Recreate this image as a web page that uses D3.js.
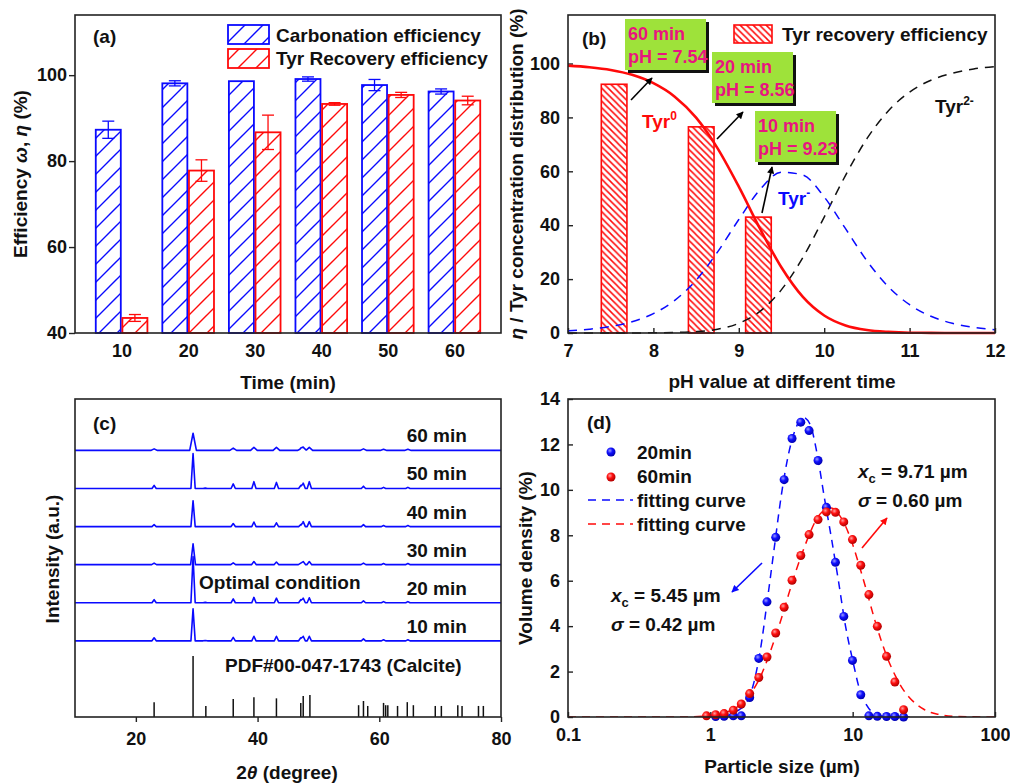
<!DOCTYPE html>
<html>
<head>
<meta charset="utf-8">
<script src="https://cdnjs.cloudflare.com/ajax/libs/d3/7.8.5/d3.min.js"></script>
<style>
  body { margin: 0; background: #fff; }
  svg { display: block; }
</style>
</head>
<body>
<div id="chart"></div>
<script>
const FONT = "'Liberation Sans', Arial, Helvetica, sans-serif";

// (a) carbonation / recovery efficiency vs time
const times = [10, 20, 30, 40, 50, 60];
const carbEff = [87.3, 98.1, 98.6, 99.1, 97.7, 96.2];
const carbErr = [2.0, 0.6, 0, 0.5, 1.3, 0.6];
const tyrEff = [43.5, 77.8, 86.7, 93.3, 95.4, 94.1];
const tyrErr = [0.8, 2.5, 4.0, 0.3, 0.6, 1.0];

// (b) recovery bars at measured pH + Tyr species distribution
const phBars = [7.54, 8.56, 9.23];
const phBarEff = [92.3, 76.5, 43.0];
const phGrid = [7, 7.25, 7.5, 7.75, 8, 8.25, 8.5, 8.75, 9, 9.25, 9.5, 9.75, 10, 10.25, 10.5, 10.75, 11, 11.25, 11.5, 11.75, 12];
const tyr0 = [99.2, 98.6, 97.6, 95.8, 92.7, 87.7, 79.9, 68.6, 54.3, 38.6, 24.3, 13.4, 6.5, 2.8, 1.1, 0.4, 0.1, 0.05, 0, 0, 0];
const tyrM = [0.8, 1.4, 2.4, 4.2, 7.2, 12.1, 19.6, 30.0, 42.1, 53.3, 59.7, 58.6, 50.5, 38.7, 26.8, 17.2, 10.5, 6.2, 3.6, 2.1, 1.2];
const tyr2M = [0, 0, 0, 0, 0.1, 0.2, 0.5, 1.4, 3.6, 8.1, 16.1, 28.0, 43.0, 58.5, 72.1, 82.4, 89.4, 93.8, 96.4, 98.0, 98.8];

// (c) XRD patterns, peak positions and heights (a.u.), one list per time
const xrdLabels = ["10 min", "20 min", "30 min", "40 min", "50 min", "60 min"];
const xrdOffsets = [200, 300, 400, 500, 600, 700];
const xrdPeakPos = [23.0, 29.4, 31.4, 36.0, 39.4, 43.1, 47.1, 47.5, 48.5, 57.4, 60.7, 64.7];
const xrd10 = [8, 84, 1, 9, 12, 12, 8, 12, 12, 5, 3, 3];
const xrd20 = [8, 121, 1, 10, 14, 12, 8, 12, 13, 5, 3, 3];
const xrd30 = [4, 55, 0, 5, 8, 7, 4, 8, 8, 4, 3, 3];
const xrd40 = [5, 68, 0, 8, 12, 10, 5, 13, 13, 5, 3, 3];
const xrd50 = [8, 92, 1, 12, 18, 16, 8, 14, 18, 6, 3, 3];
const xrd60 = [4, 45, 0, 6, 8, 8, 4, 8, 8, 4, 3, 3];
const xrdWidths = [0.35, 0.35, 0.4, 0.35, 0.35, 0.55];
const pdfPos = [23.0, 29.4, 31.5, 36.0, 39.4, 43.1, 47.1, 47.5, 48.6, 56.6, 57.4, 58.1, 60.7, 61.05, 61.4, 63.0, 64.6, 65.6, 69.2, 70.2, 72.9, 73.6, 76.3, 77.1];
const pdfInt = [39, 160, 29, 47, 52, 49, 37, 55, 58, 31, 42, 29, 37, 31, 31, 29, 39, 31, 29, 29, 31, 29, 29, 29];

// (d) particle size distribution
const blueSize = [1.09, 1.25, 1.45, 1.65, 1.89, 2.19, 2.50, 2.88, 3.30, 3.75, 4.32, 4.94, 5.71, 6.54, 7.57, 8.66, 9.97, 11.4, 13.0, 14.9, 17.3, 19.8, 22.8];
const blueVol = [0.02, 0.03, 0.05, 0.05, 0.86, 2.58, 5.07, 7.91, 10.45, 12.26, 12.98, 12.61, 11.29, 9.23, 6.81, 4.43, 2.49, 0.98, 0.05, 0.03, 0.02, 0.02, 0.0];
const redSize = [0.94, 1.09, 1.25, 1.45, 1.65, 1.89, 2.19, 2.50, 2.88, 3.30, 3.75, 4.32, 4.94, 5.71, 6.54, 7.57, 8.66, 9.97, 11.4, 13.0, 14.9, 17.3, 19.8, 22.8];
const redVol = [0.05, 0.1, 0.15, 0.3, 0.57, 1.03, 1.74, 2.64, 3.70, 4.83, 6.02, 7.11, 8.03, 8.69, 9.03, 9.01, 8.59, 7.81, 6.68, 5.39, 3.99, 2.67, 1.54, 0.32];
const blueFitSize = [1.0, 1.26, 1.41, 1.58, 1.78, 2.0, 2.24, 2.51, 2.82, 3.16, 3.55, 3.98, 4.47, 5.01, 5.62, 6.31, 7.08, 7.94, 8.91, 10, 11.2, 12.6, 14.1, 15.8, 17.8, 20.0, 25.1];
const blueFitVol = [0.0, 0.05, 0.12, 0.3, 0.6, 1.4, 2.9, 5.1, 7.5, 9.8, 11.6, 12.7, 13.2, 12.9, 11.6, 9.7, 7.9, 6.0, 4.0, 2.5, 1.2, 0.5, 0.15, 0.05, 0.01, 0, 0];
const redFitSize = [0.1, 0.2, 0.5, 0.63, 1.0, 1.26, 1.58, 1.78, 2.0, 2.24, 2.51, 2.82, 3.16, 3.55, 3.98, 4.47, 5.01, 5.62, 6.31, 7.08, 7.94, 8.91, 10, 11.2, 12.6, 14.1, 15.8, 17.8, 20.0, 22.4, 25.1, 28.2, 31.6, 35.5, 39.8, 50.1, 63.1, 100];
const redFitVol = [0, 0, 0, 0, 0.06, 0.18, 0.49, 0.8, 1.2, 1.75, 2.5, 3.4, 4.35, 5.4, 6.4, 7.3, 8.1, 8.75, 9.1, 9.2, 8.95, 8.4, 7.6, 6.6, 5.5, 4.4, 3.4, 2.5, 1.8, 1.25, 0.85, 0.55, 0.34, 0.2, 0.12, 0.035, 0.01, 0];

const BLUE = "#0a0aff";
const RED = "#ff0a0a";
const FRAME = "#222";
const FS = 19; // label size

const svg = d3.select("#chart").append("svg")
  .attr("width", 1010)
  .attr("height", 783)
  .attr("font-family", FONT)
  .attr("font-weight", "bold");

svg.append("rect").attr("width", 1010).attr("height", 783).attr("fill", "#fff");

const defs = svg.append("defs");

// hatch patterns
function hatch(id, color, s, forward, sw) {
  const p = defs.append("pattern")
    .attr("id", id)
    .attr("patternUnits", "userSpaceOnUse")
    .attr("width", s)
    .attr("height", s);
  p.append("rect").attr("width", s).attr("height", s).attr("fill", "#fff");
  const d = forward
    ? `M0,${s} L${s},0 M${-s / 2},${s / 2} L${s / 2},${-s / 2} M${s / 2},${s * 1.5} L${s * 1.5},${s / 2}`
    : `M0,0 L${s},${s} M${-s / 2},${s / 2} L${s / 2},${s * 1.5} M${s / 2},${-s / 2} L${s * 1.5},${s / 2}`;
  p.append("path").attr("d", d).attr("stroke", color).attr("stroke-width", sw).attr("fill", "none");
}
hatch("hatchBlue", BLUE, 18, true, 1.4);
hatch("hatchRed", RED, 18, true, 1.4);
hatch("hatchRedB", RED, 6.5, false, 1.5);

function arrowMarker(id, color) {
  defs.append("marker")
    .attr("id", id)
    .attr("viewBox", "0 0 10 10")
    .attr("refX", 9)
    .attr("refY", 5)
    .attr("markerWidth", 5.5)
    .attr("markerHeight", 4.5)
    .attr("orient", "auto")
    .append("path")
    .attr("d", "M0,0 L10,5 L0,10 z")
    .attr("fill", color);
}
arrowMarker("arrBlack", "#000");
arrowMarker("arrRed", RED);
arrowMarker("arrBlue", BLUE);

function ball(id, light, mid, dark) {
  const g = defs.append("radialGradient").attr("id", id)
    .attr("cx", "38%").attr("cy", "35%").attr("r", "65%");
  g.append("stop").attr("offset", "0%").attr("stop-color", light);
  g.append("stop").attr("offset", "45%").attr("stop-color", mid);
  g.append("stop").attr("offset", "100%").attr("stop-color", dark);
}
ball("ballBlue", "#9a9aff", "#1010ff", "#0000b0");
ball("ballRed", "#ffa0a0", "#ff1010", "#b00000");

function styleAxis(g) {
  g.attr("font-size", 18).attr("font-family", FONT).attr("font-weight", "bold");
  g.select(".domain").remove();
  g.selectAll(".tick line").attr("stroke", FRAME).attr("stroke-width", 1.4);
  g.selectAll(".tick text").attr("fill", "#111");
}

function frame(x0, y0, x1, y1) {
  svg.append("rect")
    .attr("x", x0).attr("y", y0)
    .attr("width", x1 - x0).attr("height", y1 - y0)
    .attr("fill", "none")
    .attr("stroke", FRAME)
    .attr("stroke-width", 1.6);
}

function label(x, y, txt, opts = {}) {
  return svg.append("text")
    .attr("x", x).attr("y", y)
    .attr("font-size", opts.size || FS)
    .attr("fill", opts.color || "#111")
    .attr("text-anchor", opts.anchor || "start")
    .text(txt);
}

function vTitle(x, y, parts) {
  const t = svg.append("text")
    .attr("transform", `translate(${x},${y}) rotate(-90)`)
    .attr("text-anchor", "middle")
    .attr("font-size", FS)
    .attr("fill", "#111");
  parts.forEach(([s, it]) => t.append("tspan").attr("font-style", it ? "italic" : null).text(s));
  return t;
}

/* ---------------- (a) ---------------- */
const ax = d3.scaleLinear().domain([3, 67]).range([75, 501]);
const ay = d3.scaleLinear().domain([40, 114]).range([333, 15]);
const barW = ax(4) - ax(0);

svg.append("g")
  .attr("transform", "translate(75,0)")
  .call(d3.axisLeft(ay).tickValues([40, 60, 80, 100]).tickSize(6).tickPadding(2))
  .call(styleAxis);

svg.append("g")
  .attr("transform", "translate(0,333)")
  .call(d3.axisBottom(ax).tickValues(times).tickSize(0).tickPadding(11))
  .call(styleAxis);

const aBars = [
  { vals: carbEff, errs: carbErr, fill: "url(#hatchBlue)", color: BLUE, shift: -4 },
  { vals: tyrEff, errs: tyrErr, fill: "url(#hatchRed)", color: RED, shift: 0 }
];

aBars.forEach(s => {
  svg.append("g").selectAll("rect")
    .data(times)
    .join("rect")
    .attr("x", (d) => ax(d + s.shift) + 0.8)
    .attr("y", (d, i) => ay(s.vals[i]))
    .attr("width", barW - 1.6)
    .attr("height", (d, i) => ay(40) - ay(s.vals[i]))
    .attr("fill", s.fill)
    .attr("stroke", s.color)
    .attr("stroke-width", 1.8);

  const eb = svg.append("g")
    .attr("stroke", s.color)
    .attr("stroke-width", 1.3)
    .selectAll("g")
    .data(times.filter((d, i) => s.errs[i] > 0).map(d => times.indexOf(d)))
    .join("g");
  const cxOf = (i) => ax(times[i] + s.shift + 2);
  eb.append("line")
    .attr("x1", cxOf).attr("x2", cxOf)
    .attr("y1", (i) => ay(s.vals[i] - s.errs[i]))
    .attr("y2", (i) => ay(s.vals[i] + s.errs[i]));
  eb.append("line")
    .attr("x1", (i) => cxOf(i) - 6).attr("x2", (i) => cxOf(i) + 6)
    .attr("y1", (i) => ay(s.vals[i] + s.errs[i]))
    .attr("y2", (i) => ay(s.vals[i] + s.errs[i]));
  eb.append("line")
    .attr("x1", (i) => cxOf(i) - 6).attr("x2", (i) => cxOf(i) + 6)
    .attr("y1", (i) => ay(s.vals[i] - s.errs[i]))
    .attr("y2", (i) => ay(s.vals[i] - s.errs[i]));
});

frame(75, 15, 501, 333);

// legend (a)
svg.append("rect").attr("x", 228).attr("y", 25).attr("width", 41).attr("height", 19)
  .attr("fill", "url(#hatchBlue)").attr("stroke", BLUE).attr("stroke-width", 1.8);
svg.append("rect").attr("x", 228).attr("y", 49).attr("width", 41).attr("height", 19)
  .attr("fill", "url(#hatchRed)").attr("stroke", RED).attr("stroke-width", 1.8);
label(276, 42, "Carbonation efficiency");
label(276, 65, "Tyr Recovery efficiency");
label(93, 43, "(a)");

label(288, 389, "Time (min)", { anchor: "middle" });
vTitle(27, 174, [["Efficiency ", false], ["ω", true], [", ", false], ["η", true], [" (%)", false]]);

/* ---------------- (b) ---------------- */
const bx = d3.scaleLinear().domain([7, 12]).range([568, 995]);
const by = d3.scaleLinear().domain([0, 118]).range([333, 15]);

svg.append("g")
  .attr("transform", "translate(568,0)")
  .call(d3.axisLeft(by).tickValues([0, 20, 40, 60, 80, 100]).tickSize(-5).tickPadding(8))
  .call(styleAxis);

svg.append("g")
  .attr("transform", "translate(0,333)")
  .call(d3.axisBottom(bx).ticks(5).tickSize(-5).tickPadding(11))
  .call(styleAxis);

svg.append("g").selectAll("rect")
  .data(phBars)
  .join("rect")
  .attr("x", (d) => bx(d - 0.15))
  .attr("y", (d, i) => by(phBarEff[i]))
  .attr("width", bx(7.3) - bx(7))
  .attr("height", (d, i) => by(0) - by(phBarEff[i]))
  .attr("fill", "url(#hatchRedB)")
  .attr("stroke", RED)
  .attr("stroke-width", 1.6);

const bLine = (vals) => d3.line()
  .x((d, i) => bx(phGrid[i]))
  .y((d) => by(d))
  .curve(d3.curveMonotoneX)(vals);

svg.append("path").attr("d", bLine(tyr2M)).attr("fill", "none")
  .attr("stroke", "#111").attr("stroke-width", 1.5).attr("stroke-dasharray", "9,7");
svg.append("path").attr("d", bLine(tyrM)).attr("fill", "none")
  .attr("stroke", BLUE).attr("stroke-width", 1.5).attr("stroke-dasharray", "9,7");
svg.append("path").attr("d", bLine(tyr0)).attr("fill", "none")
  .attr("stroke", RED).attr("stroke-width", 2.6);

frame(568, 15, 995, 333);

// species labels
const t0 = label(642, 128, "Tyr", { color: RED });
t0.append("tspan").attr("dy", -8).attr("font-size", 12).text("0");
const t1 = label(778, 205, "Tyr", { color: BLUE });
t1.append("tspan").attr("dy", -8).attr("font-size", 12).text("-");
const t2 = label(935, 113, "Tyr", { color: "#111" });
t2.append("tspan").attr("dy", -8).attr("font-size", 12).text("2-");

// legend (b)
svg.append("rect").attr("x", 734).attr("y", 25).attr("width", 38).attr("height", 18)
  .attr("fill", "url(#hatchRedB)").attr("stroke", RED).attr("stroke-width", 1.6);
label(782, 41, "Tyr recovery efficiency");
label(582, 45, "(b)");

// pH call-out boxes
const callouts = [
  { x: 625, y: 19, t1: "60 min", t2: "pH = 7.54", a: [631, 100, 652, 78] },
  { x: 712, y: 52, t1: "20 min", t2: "pH = 8.56", a: [717, 139, 743, 112] },
  { x: 755, y: 111, t1: "10 min", t2: "pH = 9.23", a: [762, 213, 772, 167] }
];
callouts.forEach(c => {
  svg.append("rect").attr("x", c.x + 3).attr("y", c.y + 3).attr("width", 81).attr("height", 51).attr("fill", "#111");
  svg.append("rect").attr("x", c.x).attr("y", c.y).attr("width", 81).attr("height", 51).attr("fill", "#9ee23a");
  label(c.x + 3, c.y + 21, c.t1, { color: "#e8157f", size: 18 });
  label(c.x + 3, c.y + 44, c.t2, { color: "#e8157f", size: 18 });
  svg.append("line")
    .attr("x1", c.a[0]).attr("y1", c.a[1]).attr("x2", c.a[2]).attr("y2", c.a[3])
    .attr("stroke", "#000").attr("stroke-width", 1.6)
    .attr("marker-end", "url(#arrBlack)");
});

label(782, 388, "pH value at different time", { anchor: "middle" });
vTitle(523, 174, [["η", true], [" / Tyr concentration distribution (%)", false]]);

/* ---------------- (c) ---------------- */
const cx = d3.scaleLinear().domain([10, 80]).range([75, 501]);
const cy = d3.scaleLinear().domain([0, 835]).range([717, 399]);

svg.append("g")
  .attr("transform", "translate(0,717)")
  .call(d3.axisBottom(cx).tickValues([20, 40, 60, 80]).tickSize(5).tickPadding(10))
  .call(styleAxis);

// build each trace from its peak list (triangular peaks on a flat base)
function xrdTrace(heights, off, w) {
  const xs = [10, 80];
  xrdPeakPos.forEach(p => xs.push(p - w, p, p + w));
  xs.sort((a, b) => a - b);
  return xs.map(x => {
    let y = off;
    xrdPeakPos.forEach((p, i) => {
      y += Math.max(0, heights[i] * (1 - Math.abs(x - p) / w));
    });
    return [x, y];
  });
}

const xrdSets = [xrd10, xrd20, xrd30, xrd40, xrd50, xrd60];
const cLine = d3.line().x(d => cx(d[0])).y(d => cy(d[1]));

xrdSets.forEach((h, k) => {
  svg.append("path")
    .attr("d", cLine(xrdTrace(h, xrdOffsets[k], xrdWidths[k])))
    .attr("fill", "none")
    .attr("stroke", BLUE)
    .attr("stroke-width", 1.6)
    .attr("stroke-linejoin", "round");
  label(cx(64.5), cy(xrdOffsets[k]) - 8, xrdLabels[k]);
});

svg.append("g").selectAll("line")
  .data(pdfPos)
  .join("line")
  .attr("x1", d => cx(d)).attr("x2", d => cx(d))
  .attr("y1", cy(0))
  .attr("y2", (d, i) => cy(pdfInt[i]))
  .attr("stroke", "#111")
  .attr("stroke-width", 1.5);

frame(75, 399, 501, 717);

label(199, 589, "Optimal condition");
label(225, 672, "PDF#00-047-1743 (Calcite)");
label(93, 430, "(c)");

const cTitle = label(287, 779, "2", { anchor: "middle" });
cTitle.append("tspan").attr("font-style", "italic").text("θ");
cTitle.append("tspan").text(" (degree)");
vTitle(59, 559, [["Intensity (a.u.)", false]]);

/* ---------------- (d) ---------------- */
const dx = d3.scaleLog().domain([0.1, 100]).range([568, 995]);
const dy = d3.scaleLinear().domain([0, 14]).range([717, 399]);

svg.append("g")
  .attr("transform", "translate(568,0)")
  .call(d3.axisLeft(dy).tickValues(d3.range(0, 15, 2)).tickSize(-5).tickPadding(8))
  .call(styleAxis);

svg.append("g")
  .attr("transform", "translate(0,717)")
  .call(d3.axisBottom(dx).tickValues([0.1, 1, 10, 100]).tickFormat(d3.format("~g")).tickSize(-5).tickPadding(11))
  .call(styleAxis);

defs.append("clipPath").attr("id", "clipD")
  .append("rect").attr("x", 568).attr("y", 399).attr("width", 427).attr("height", 318);

const dLine = (sizes) => d3.line()
  .x((d, i) => dx(sizes[i]))
  .y(d => dy(d))
  .curve(d3.curveMonotoneX);

svg.append("path")
  .attr("d", dLine(redFitSize)(redFitVol))
  .attr("clip-path", "url(#clipD)")
  .attr("fill", "none").attr("stroke", RED).attr("stroke-width", 1.5).attr("stroke-dasharray", "8,6");
svg.append("path")
  .attr("d", dLine(blueFitSize)(blueFitVol))
  .attr("clip-path", "url(#clipD)")
  .attr("fill", "none").attr("stroke", BLUE).attr("stroke-width", 1.5).attr("stroke-dasharray", "8,6");

svg.append("g").selectAll("circle")
  .data(blueSize)
  .join("circle")
  .attr("cx", d => dx(d))
  .attr("cy", (d, i) => dy(blueVol[i]))
  .attr("r", 4.5)
  .attr("fill", "url(#ballBlue)");

svg.append("g").selectAll("circle")
  .data(redSize)
  .join("circle")
  .attr("cx", d => dx(d))
  .attr("cy", (d, i) => dy(redVol[i]))
  .attr("r", 4.5)
  .attr("fill", "url(#ballRed)");

frame(568, 399, 995, 717);

// legend (d)
svg.append("circle").attr("cx", 611).attr("cy", 452).attr("r", 4.5).attr("fill", "url(#ballBlue)");
svg.append("circle").attr("cx", 611).attr("cy", 477).attr("r", 4.5).attr("fill", "url(#ballRed)");
svg.append("line").attr("x1", 588).attr("x2", 633).attr("y1", 500).attr("y2", 500)
  .attr("stroke", BLUE).attr("stroke-width", 1.5).attr("stroke-dasharray", "8,6");
svg.append("line").attr("x1", 588).attr("x2", 633).attr("y1", 524).attr("y2", 524)
  .attr("stroke", RED).attr("stroke-width", 1.5).attr("stroke-dasharray", "8,6");
label(637, 459, "20min");
label(637, 483, "60min");
label(637, 507, "fitting curve");
label(637, 531, "fitting curve");
label(587, 429, "(d)");

function xcLabel(x, y, val) {
  const t = label(x, y, "");
  t.append("tspan").attr("font-style", "italic").text("x");
  t.append("tspan").attr("dy", 5).attr("font-size", 13).text("c");
  t.append("tspan").attr("dy", -5).text(" = " + val + " µm");
}
function sigLabel(x, y, val) {
  const t = label(x, y, "");
  t.append("tspan").attr("font-style", "italic").text("σ");
  t.append("tspan").text(" = " + val + " µm");
}
xcLabel(858, 478, "9.71");
sigLabel(858, 507, "0.60");
xcLabel(611, 602, "5.45");
sigLabel(611, 631, "0.42");

svg.append("line").attr("x1", 862).attr("y1", 548).attr("x2", 887).attr("y2", 518)
  .attr("stroke", RED).attr("stroke-width", 1.6).attr("marker-end", "url(#arrRed)");
svg.append("line").attr("x1", 762).attr("y1", 563).attr("x2", 732).attr("y2", 592)
  .attr("stroke", BLUE).attr("stroke-width", 1.6).attr("marker-end", "url(#arrBlue)");

label(782, 773, "Particle size (µm)", { anchor: "middle" });
vTitle(532, 558, [["Volume density (%)", false]]);
</script>
</body>
</html>
